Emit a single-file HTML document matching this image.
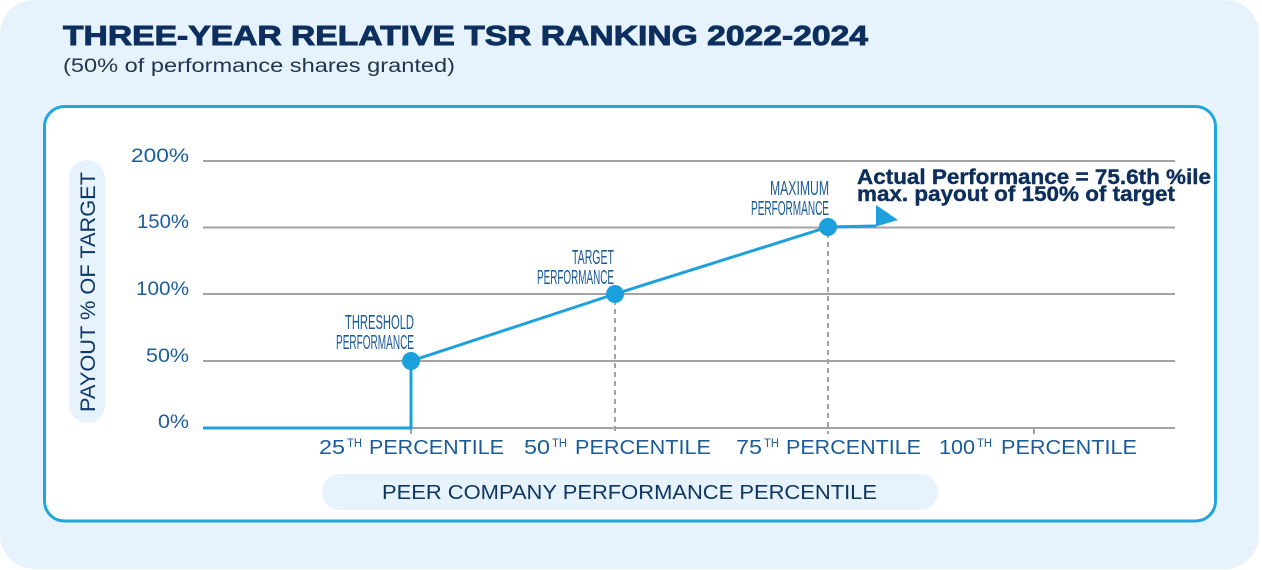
<!DOCTYPE html>
<html>
<head>
<meta charset="utf-8">
<style>
  html,body{margin:0;padding:0;background:#ffffff;}
  svg{display:block;}
  text{font-family:"Liberation Sans", sans-serif;}
</style>
</head>
<body>
<svg width="1262" height="570" viewBox="0 0 1262 570" xmlns="http://www.w3.org/2000/svg">
  <!-- outer background -->
  <rect x="0" y="0" width="1259" height="569" rx="34" ry="34" fill="#e6f3fd"/>

  <!-- title -->
  <text x="63" y="45" font-size="28" font-weight="bold" fill="#0c2f5e" stroke="#0c2f5e" stroke-width="0.9" textLength="805" lengthAdjust="spacingAndGlyphs">THREE-YEAR RELATIVE TSR RANKING 2022-2024</text>
  <text x="63" y="72" font-size="19" fill="#22344e" textLength="392" lengthAdjust="spacingAndGlyphs">(50% of performance shares granted)</text>

  <!-- inner white box -->
  <rect x="44.5" y="106.5" width="1171" height="414.5" rx="20" ry="20" fill="#ffffff" stroke="#1ea6dd" stroke-width="3"/>

  <!-- y-axis pill -->
  <rect x="69" y="160" width="36" height="263" rx="18" ry="18" fill="#e6f3fd"/>
  <text transform="translate(95,292) rotate(-90)" x="0" y="0" text-anchor="middle" font-size="21" fill="#0e3766" textLength="240" lengthAdjust="spacingAndGlyphs">PAYOUT % OF TARGET</text>

  <!-- x-axis pill -->
  <rect x="322" y="474" width="616" height="36" rx="18" ry="18" fill="#e6f3fd"/>
  <text x="382" y="499" font-size="20" fill="#0f3562" textLength="495" lengthAdjust="spacingAndGlyphs">PEER COMPANY PERFORMANCE PERCENTILE</text>

  <!-- gridlines -->
  <g stroke="#a3a3a3" stroke-width="2">
    <line x1="203" y1="161" x2="1175" y2="161"/>
    <line x1="203" y1="227.5" x2="1175" y2="227.5"/>
    <line x1="203" y1="294" x2="1175" y2="294"/>
    <line x1="203" y1="361" x2="1175" y2="361"/>
    <line x1="203" y1="428" x2="1175" y2="428"/>
    <line x1="411" y1="428" x2="411" y2="434"/>
    <line x1="1034" y1="428" x2="1034" y2="434"/>
  </g>
  <g stroke="#a3a3a3" stroke-width="2" stroke-dasharray="5,4">
    <line x1="615" y1="300" x2="615" y2="434"/>
    <line x1="828" y1="233" x2="828" y2="434"/>
  </g>

  <!-- y labels -->
  <g font-size="19" fill="#1c5d9c">
    <text x="131" y="162" textLength="58" lengthAdjust="spacingAndGlyphs">200%</text>
    <text x="137" y="228" textLength="52" lengthAdjust="spacingAndGlyphs">150%</text>
    <text x="136" y="295" textLength="53" lengthAdjust="spacingAndGlyphs">100%</text>
    <text x="146" y="362" textLength="43" lengthAdjust="spacingAndGlyphs">50%</text>
    <text x="158" y="428" textLength="31" lengthAdjust="spacingAndGlyphs">0%</text>
  </g>

  <!-- x labels -->
  <g fill="#1a5c9a">
    <text x="319" y="454" font-size="20" textLength="26" lengthAdjust="spacingAndGlyphs">25</text>
    <text x="347" y="447" font-size="11.5" textLength="15" lengthAdjust="spacingAndGlyphs">TH</text>
    <text x="369" y="454" font-size="20" textLength="135" lengthAdjust="spacingAndGlyphs">PERCENTILE</text>

    <text x="524" y="454" font-size="20" textLength="26" lengthAdjust="spacingAndGlyphs">50</text>
    <text x="552" y="447" font-size="11.5" textLength="15" lengthAdjust="spacingAndGlyphs">TH</text>
    <text x="575" y="454" font-size="20" textLength="136" lengthAdjust="spacingAndGlyphs">PERCENTILE</text>

    <text x="736" y="454" font-size="20" textLength="26" lengthAdjust="spacingAndGlyphs">75</text>
    <text x="764" y="447" font-size="11.5" textLength="15" lengthAdjust="spacingAndGlyphs">TH</text>
    <text x="786" y="454" font-size="20" textLength="135" lengthAdjust="spacingAndGlyphs">PERCENTILE</text>

    <text x="939" y="454" font-size="20" textLength="36" lengthAdjust="spacingAndGlyphs">100</text>
    <text x="977" y="447" font-size="11.5" textLength="15" lengthAdjust="spacingAndGlyphs">TH</text>
    <text x="1001" y="454" font-size="20" textLength="136" lengthAdjust="spacingAndGlyphs">PERCENTILE</text>
  </g>

  <!-- payout line -->
  <polyline points="203,428 411,428 411,361 615,294 828,227 876,226" fill="none" stroke="#1ea0dc" stroke-width="3" stroke-linejoin="miter"/>
  <polygon points="876,205 876,226.5 898,220" fill="#1ea0dc"/>
  <g fill="#1aa0dc">
    <circle cx="411" cy="361" r="9"/>
    <circle cx="615" cy="294" r="9"/>
    <circle cx="828" cy="227" r="9"/>
  </g>

  <!-- point labels (condensed) -->
  <g fill="#1b5a98" font-size="20" text-anchor="end">
    <text x="414" y="329" textLength="69" lengthAdjust="spacingAndGlyphs">THRESHOLD</text>
    <text x="414" y="349" textLength="78" lengthAdjust="spacingAndGlyphs">PERFORMANCE</text>
    <text x="614" y="264" textLength="42" lengthAdjust="spacingAndGlyphs">TARGET</text>
    <text x="614" y="284" textLength="77" lengthAdjust="spacingAndGlyphs">PERFORMANCE</text>
    <text x="829" y="195" textLength="59" lengthAdjust="spacingAndGlyphs">MAXIMUM</text>
    <text x="829" y="215" textLength="78" lengthAdjust="spacingAndGlyphs">PERFORMANCE</text>
  </g>

  <!-- annotation -->
  <g fill="#0c2f5e" stroke="#0c2f5e" stroke-width="0.4" font-size="21" font-weight="bold">
    <text x="857" y="184" textLength="354" lengthAdjust="spacingAndGlyphs">Actual Performance = 75.6th %ile</text>
    <text x="857" y="201" textLength="318" lengthAdjust="spacingAndGlyphs">max. payout of 150% of target</text>
  </g>
</svg>
</body>
</html>
